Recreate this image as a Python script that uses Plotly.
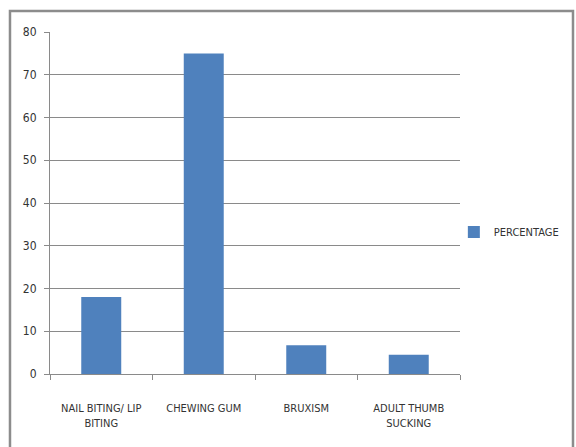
import plotly.graph_objects as go

categories = ["NAIL BITING/ LIP<br>BITING", "CHEWING GUM", "BRUXISM", "ADULT THUMB<br>SUCKING"]
percentage = [18, 75, 6.7, 4.5]
y_ticks = [0, 10, 20, 30, 40, 50, 60, 70, 80]

FONT = "DejaVu Sans Condensed, Liberation Sans Narrow, sans-serif"
GRID = "#8a8a8a"
TEXT = "#333333"

fig = go.Figure()
fig.add_trace(go.Bar(
    x=categories,
    y=percentage,
    name="PERCENTAGE",
    marker=dict(color="#4f81bd", line=dict(width=0)),
))

fig.update_layout(
    width=576,
    height=447,
    margin=dict(l=50, r=116, t=32, b=73, autoexpand=False),
    paper_bgcolor="white",
    plot_bgcolor="white",
    bargap=0.61,
    font=dict(family=FONT, size=11, color=TEXT),
    showlegend=True,
    legend=dict(
        x=0.985, y=0.415, xanchor="left", yanchor="middle",
        font=dict(family=FONT, size=11, color=TEXT),
        itemwidth=30,
        bgcolor="rgba(0,0,0,0)",
    ),
    shapes=[
        dict(type="rect", xref="paper", yref="paper",
             x0=-0.0976, x1=1.2756, y0=-0.4, y1=1.0614,
             line=dict(color="#8c8c8c", width=2.5), layer="below"),
    ],
)

fig.update_xaxes(
    showline=True, linecolor=GRID, linewidth=1,
    ticks="outside", tickson="boundaries", ticklen=5, tickcolor=GRID,
    showgrid=False,
    tickfont=dict(family=FONT, size=11, color=TEXT),
    tickangle=0,
    ticklabelstandoff=24,
)
fig.update_yaxes(
    range=[0, 80], tickvals=y_ticks,
    showline=True, linecolor=GRID, linewidth=1,
    ticks="outside", ticklen=5, tickcolor=GRID,
    showgrid=True, gridcolor=GRID, gridwidth=1,
    zeroline=False,
    tickfont=dict(family=FONT, size=12, color=TEXT),
    ticklabelstandoff=5,
)

fig.write_html("out.html")
